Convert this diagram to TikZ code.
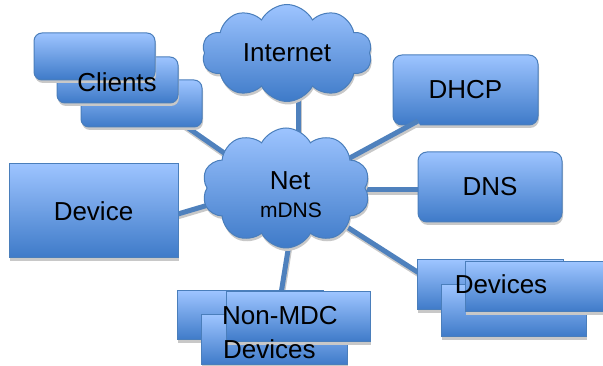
\documentclass[tikz,border=0pt]{standalone}
\usepackage{fontspec}
\setmainfont{Liberation Sans}
\usetikzlibrary{shapes.symbols,shadows}
\definecolor{boxtop}{RGB}{157,196,255}
\definecolor{boxbot}{RGB}{62,122,200}
\definecolor{boxedge}{RGB}{74,126,187}
\definecolor{linec}{RGB}{79,129,189}
\definecolor{shadowc}{RGB}{200,200,200}
\pgfdeclarelayer{back}
\pgfdeclarelayer{lines}
\pgfsetlayers{back,lines,main}
\begin{document}
\begin{tikzpicture}[x=1pt,y=-1pt,
  fillbox/.style={top color=boxtop,bottom color=boxbot,draw=boxedge,line width=1pt,
    drop shadow={shadow xshift=1pt,shadow yshift=-3pt,fill=shadowc,opacity=1}},
  rbox/.style={fillbox,rounded corners=9pt,inner sep=0pt,font=\fontsize{26}{30}\selectfont},
  sbox/.style={fillbox,inner sep=0pt,font=\fontsize{26}{30}\selectfont},
  cloudbox/.style={fillbox,cloud,cloud puffs=10,cloud puff arc=125,cloud ignores aspect,
    inner sep=0pt,font=\fontsize{26}{30}\selectfont},
  lbl/.style={inner sep=0pt,font=\fontsize{26}{30}\selectfont},
  conn/.style={draw=linec,line width=5pt,
    preaction={draw=shadowc,line width=5pt,transform canvas={xshift=1pt,yshift=-2.5pt}}}
]
\useasboundingbox (0,0) rectangle (603,366);

% DHCP sits below the connector layer
\begin{pgfonlayer}{back}
  \node[rbox,minimum width=145pt,minimum height=70pt] (dhcp) at (465.5,90) {DHCP};
\end{pgfonlayer}

% Clients stack
\node[rbox,rounded corners=8pt,minimum width=121pt,minimum height=47pt] (c3) at (141.5,103.5) {};
\node[rbox,rounded corners=8pt,minimum width=121pt,minimum height=46pt] (c2) at (117.5,80) {};
\node[rbox,rounded corners=8pt,minimum width=121pt,minimum height=47pt] (c1) at (94.5,56.5) {};
\node[lbl] (clientslbl) at (117,82) {Clients};

% Clouds
\node[cloudbox,minimum width=170pt,minimum height=97pt] (internet) at (287,53) {Internet};
\node[cloudbox,minimum width=168pt,minimum height=120pt] (net) at (286,188) {};
\node[lbl] (netword) at (290,181) {Net};
\node[inner sep=0pt,font=\fontsize{21}{24}\selectfont] (mdnsword) at (291,210) {mDNS};

% Servers and single device
\node[rbox,minimum width=144pt,minimum height=70pt] (dns) at (490,187) {DNS};
\node[sbox,minimum width=169pt,minimum height=94pt] (device) at (93.5,211) {Device};

% Non-MDC stack
\node[sbox,minimum width=146pt,minimum height=49pt] (nA) at (250,315.5) {};
\node[sbox,minimum width=146pt,minimum height=50pt] (nC) at (274,340) {};
\node[sbox,minimum width=144pt,minimum height=50pt] (nB) at (298,317) {};
\node[lbl,anchor=west] (nonmdc) at (222,316) {Non-MDC};
\node[lbl,anchor=west] (nonmdcdev) at (223,349) {Devices};

% Devices stack
\node[sbox,minimum width=146pt,minimum height=50pt] (dA) at (490,285) {};
\node[sbox,minimum width=145pt,minimum height=52pt] (dC) at (513.5,311) {};
\node[sbox,minimum width=146pt,minimum height=50pt] (dB) at (538,287) {};
\node[lbl] (deviceslbl) at (501,284) {Devices};

% Connectors
\begin{pgfonlayer}{lines}
  \draw[conn] ([yshift=8pt]c3.center) -- ([yshift=-8pt]net.center);
  \draw[conn] ([xshift=11pt]internet.center) -- ([xshift=12pt]net.center);
  \draw[conn] ([xshift=14pt,yshift=3pt]net.center) -- ([xshift=-47.5pt,yshift=-31pt]dhcp.center);
  \draw[conn] ([yshift=-2pt]net.center) -- ([yshift=-3pt]dns.center);
  \draw[conn] ([yshift=-28pt]device.center) -- ([yshift=6pt]net.center);
  \draw[conn] ([xshift=12pt]net.center) -- ([xshift=-18pt,yshift=17pt]nB.center);
  \draw[conn] (net.center) -- ([xshift=-60pt,yshift=5pt]dA.center);
\end{pgfonlayer}
\end{tikzpicture}
\end{document}
